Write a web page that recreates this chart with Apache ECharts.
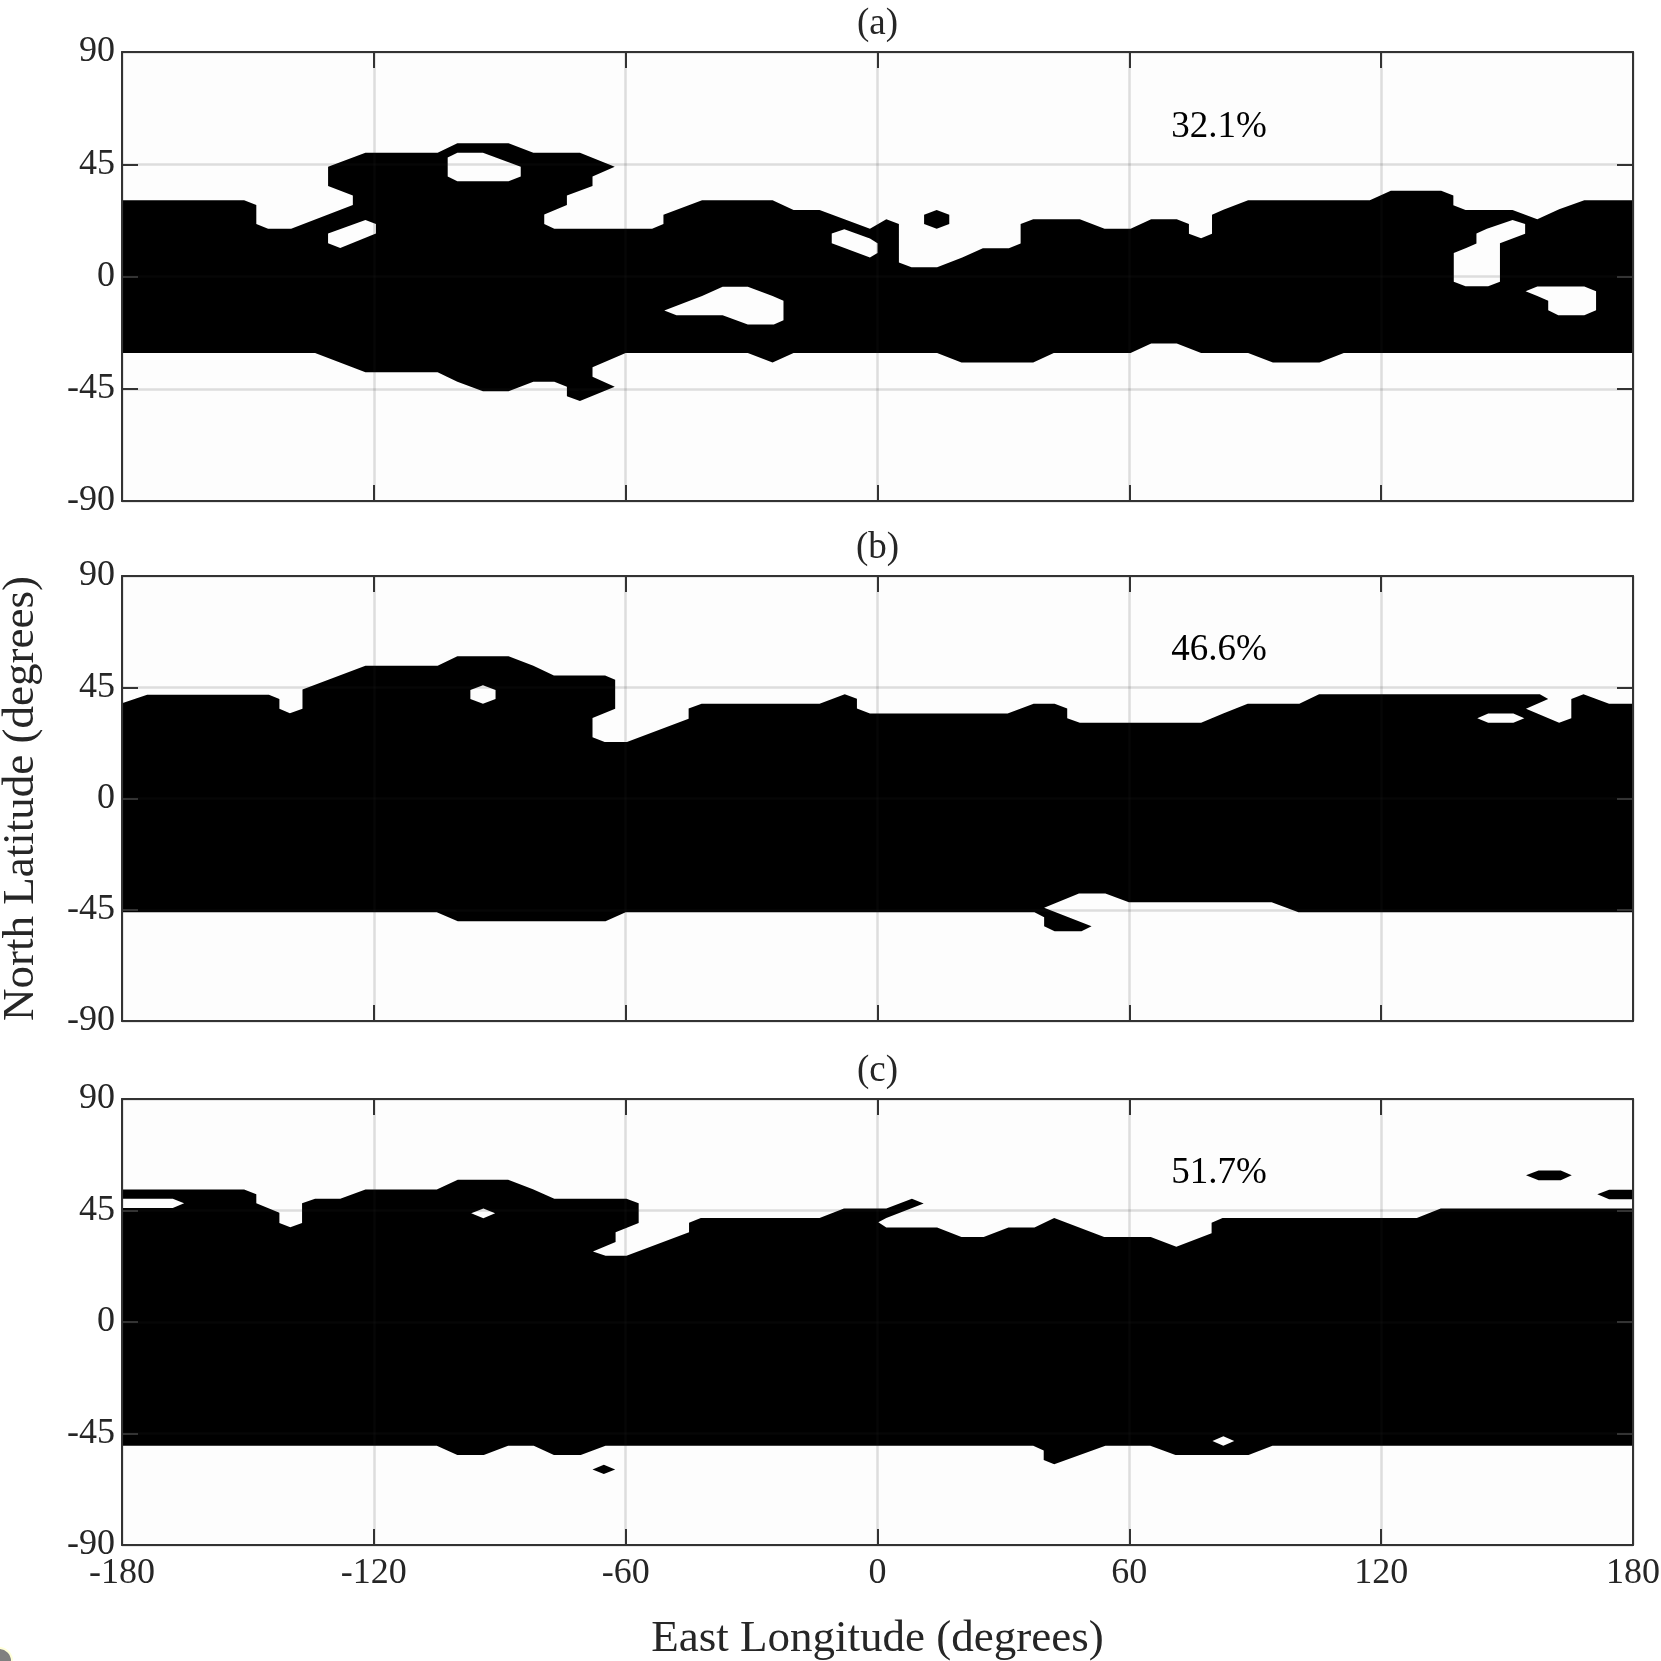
<!DOCTYPE html>
<html><head><meta charset="utf-8">
<style>html,body{margin:0;padding:0;background:#fff}#c{width:1661px;height:1661px}</style>
<script src="https://cdn.jsdelivr.net/npm/echarts@6/dist/echarts.min.js"></script>
</head><body><div id="c"></div>
<script>
const lonTicks=[-180,-120,-60,0,60,120,180];
const latTicks=[-90,-45,0,45,90];
const panelTitles=['(a)','(b)','(c)'];
const percentLabels=['32.1%','46.6%','51.7%'];
const labelLon=70, labelLat=60;

// Panel (a): contour outlines, [longitude, latitude]
const aBand=[[-180,30.6],[-150.9,30.6],[-148,28.7],[-148,21],[-145.2,19.1],[-139.7,19.1],[-125,28.7],[-125,32.5],[-130.9,36.3],[-130.9,44],[-122,49.6],[-104.8,49.6],[-100.1,53.4],[-87.9,53.4],[-82,49.6],[-70.9,49.6],[-62.6,44],[-67.9,40.1],[-67.9,36.3],[-74,32.5],[-74,28.7],[-79.4,24.9],[-79.4,21],[-77,19.1],[-53.7,19.1],[-51,21],[-51,24.8],[-41.8,30.6],[-25,30.6],[-20,26.7],[-13.8,26.7],[-1.8,19.1],[2.1,23],[5.1,21],[5.1,5.6],[8.1,3.7],[14.2,3.7],[20.2,7.6],[25.1,11.3],[31.3,11.3],[34.1,13.2],[34.1,21],[37.1,23],[48.2,23],[54.1,19.1],[60.3,19.1],[65.2,23],[71.3,23],[74.2,21],[74.2,17.1],[77.1,15.3],[79.7,17.1],[79.7,24.8],[82.4,26.8],[88.3,30.6],[117.3,30.6],[122.3,34.4],[134.3,34.4],[137.2,32.5],[137.2,28.6],[140.1,26.7],[151.3,26.7],[157.2,23],[162.4,27],[168.4,30.6],[180,30.6],[180,-30.7],[111.1,-30.7],[105.3,-34.5],[94.2,-34.5],[88.3,-30.7],[77.1,-30.7],[71.3,-26.9],[65.2,-26.9],[60.3,-30.7],[42,-30.7],[37.1,-34.5],[20,-34.5],[14.2,-30.7],[-20,-30.7],[-25,-34.5],[-30.9,-30.7],[-60,-30.7],[-67.9,-36.4],[-67.9,-40.2],[-62.6,-44.2],[-70.9,-49.9],[-74,-48],[-74,-44.2],[-77,-42.2],[-82,-42.2],[-87.9,-46],[-94,-46],[-100.1,-42.2],[-104.8,-38.4],[-122,-38.4],[-134,-30.7],[-180,-30.7]];
const aIsland=[[11.1,24.8],[14.1,26.7],[17.1,24.8],[17.1,21],[14.1,19.1],[11.1,21]];
const aHole1=[[-102.4,47.7],[-100.1,49.6],[-94,49.6],[-85,44],[-85,40.1],[-87.9,38.2],[-100.1,38.2],[-102.4,40.1]];
const aHole2=[[-130.9,17.2],[-122,22.7],[-119.5,21],[-119.5,17.2],[-128,11.4],[-130.9,13.3]];
const aHole3=[[-50.8,-13.6],[-41.8,-7.8],[-36.9,-4.1],[-30.9,-4.1],[-25,-7.8],[-22.4,-9.7],[-22.4,-17.5],[-24.7,-19.2],[-30.9,-19.2],[-36.9,-15.5],[-47.9,-15.5]];
const aHole4=[[-10.9,17.2],[-7.9,18.9],[-1.8,15.2],[0,13.3],[0,9.4],[-1.8,7.6],[-10.9,13.3]];
const aHole5=[[137.3,9.4],[140.4,11.5],[142.7,13.2],[142.7,17.2],[145.2,19.1],[151.3,22.7],[154.3,21],[154.3,17.1],[148.3,13.3],[148.3,-2.1],[145.5,-3.9],[140.1,-3.9],[137.3,-2.1]];
const aHole6=[[154.4,-5.9],[157.2,-4],[168.4,-4],[171.2,-5.9],[171.2,-13.5],[168.4,-15.5],[162.2,-15.5],[159.8,-13.5],[159.8,-9.7],[157.2,-7.8]];

// Panel (b)
const bBand=[[-180,38.5],[-174,42],[-145,42],[-142.5,40.2],[-142.5,36.3],[-140,34.5],[-137,36.3],[-137,44.1],[-122,53.7],[-104.8,53.7],[-100.1,57.5],[-87.9,57.5],[-82,53.7],[-77.1,49.8],[-64.9,49.8],[-62.5,48],[-62.5,36.3],[-67.9,32.6],[-67.9,24.8],[-65,22.9],[-59.7,22.9],[-45,32.3],[-45,36.4],[-41.9,38.3],[-13.8,38.3],[-7.8,42.2],[-4.9,40.3],[-4.9,36.4],[-1.8,34.4],[31,34.4],[37.2,38.3],[42.2,38.3],[45.2,36.4],[45.2,32.5],[48.2,30.6],[77.1,30.6],[82.5,34.5],[88.2,38.3],[100.5,38.3],[105.2,42.2],[157.8,42.2],[159.8,40.2],[154.5,36.3],[162.4,30.6],[165.3,32.5],[165.3,40.2],[168.2,42.2],[174.3,38.3],[180,38.3],[180,-46],[100.3,-46],[93.9,-42],[59.9,-42],[54.3,-38.4],[48,-38.4],[39.7,-44.2],[51,-51.7],[48.6,-53.7],[42.2,-53.7],[39.7,-51.7],[39.7,-48],[37.4,-46],[-60,-46],[-64.8,-49.7],[-100,-49.7],[-105,-46],[-180,-46]];
const bHole1=[[-94,45.8],[-91,43.9],[-91,40.2],[-94,38.3],[-97,40.2],[-97,43.9]];
const bHole2=[[142.9,32.5],[145.5,34.4],[151.5,34.4],[154.1,32.5],[151.5,30.6],[145.5,30.6]];

// Panel (c)
const cBand=[[-180,53.5],[-150.9,53.5],[-148,51.6],[-148,47.9],[-142.5,44.1],[-142.5,40],[-139.9,38.2],[-137.1,40],[-137.1,47.9],[-134,49.7],[-128,49.7],[-122,53.5],[-105,53.5],[-100,57.4],[-88,57.4],[-82.1,53.6],[-77,49.7],[-59.8,49.7],[-56.9,47.9],[-56.9,40],[-62.4,36.2],[-62.4,32.3],[-67.8,28.5],[-64.8,26.7],[-59.8,26.7],[-44.9,36.2],[-44.9,40.1],[-42.1,42],[-13.8,42],[-8,45.8],[2.1,45.8],[8.2,49.7],[11,47.8],[2.1,42],[0.2,40.3],[2.1,38.1],[14.2,38.1],[20,34.3],[25.3,34.3],[31.2,38.1],[37.4,38.1],[42.1,42],[54,34.3],[65.1,34.3],[71.2,30.4],[79.6,35.8],[79.6,40.1],[82.2,42],[128.5,42],[134.2,45.8],[180,45.8],[180,-49.9],[94.1,-49.9],[88.4,-53.7],[71,-53.7],[65,-49.9],[54.3,-49.9],[42.1,-57.4],[39.6,-55.7],[39.6,-51.9],[37.1,-49.9],[-64.8,-49.9],[-70.7,-53.7],[-77.1,-53.7],[-81.9,-49.9],[-88,-49.9],[-93.8,-53.7],[-100.1,-53.7],[-105,-49.9],[-180,-49.9]];
const cIsland1=[[154.5,59.2],[157.5,61.1],[162.8,61.1],[165.4,59.2],[162.8,57.2],[157.5,57.2]];
const cIsland2=[[171.5,51.6],[174.3,53.4],[180,53.4],[180,49.5],[174.3,49.5]];
const cIsland3=[[-67.9,-59.5],[-65.2,-57.6],[-62.5,-59.5],[-65.2,-61.3]];
const cHole1=[[-180,49.7],[-167.9,49.7],[-165.2,47.9],[-167.9,46],[-180,46]];
const cHole2=[[-96.8,43.9],[-93.9,45.8],[-91.1,43.9],[-93.9,41.9]];
const cHole3=[[79.8,-48],[82.4,-46.1],[85,-48],[82.4,-49.9]];

const filled=[[aBand,aIsland],[bBand],[cBand,cIsland1,cIsland2,cIsland3]];
const holes=[[aHole1,aHole2,aHole3,aHole4,aHole5,aHole6],[bHole1,bHole2],[cHole1,cHole2,cHole3]];

const FONT='"Liberation Serif","DejaVu Serif",serif';
const INK='#262626', BG='#fdfdfd', EDGE='#333333';
const grids=[{left:122,width:1511,top:52,height:449},{left:122,width:1511,top:576,height:445},{left:122,width:1511,top:1099,height:446}];

function baseAxis(extra){
  return Object.assign({type:'value',z:3,axisLine:{show:true,onZero:false,lineStyle:{color:EDGE,width:2}},
    axisTick:{show:true,inside:true,length:16,lineStyle:{color:EDGE,width:2}},
    axisLabel:{show:false},splitLine:{show:false}},extra);
}
const xAxes=[],yAxes=[],series=[];
grids.forEach((g,i)=>{
  const xOpt={min:lonTicks[0],max:lonTicks[lonTicks.length-1],interval:60,gridIndex:i};
  const yOpt={min:latTicks[0],max:latTicks[latTicks.length-1],interval:45,gridIndex:i};
  const split={show:true,lineStyle:{color:'rgba(38,38,38,0.15)',width:2.5}};
  const bottom=baseAxis(Object.assign({},xOpt,{position:'bottom',splitLine:split}));
  if(i===2){
    bottom.axisLabel={show:true,color:INK,fontFamily:FONT,fontSize:36,margin:11,showMinLabel:true,showMaxLabel:true,hideOverlap:false};
    bottom.name='East Longitude (degrees)';bottom.nameLocation='middle';bottom.nameGap=72;
    bottom.nameTextStyle={color:INK,fontFamily:FONT,fontSize:45};
  }
  const top=baseAxis(Object.assign({},xOpt,{position:'top',name:panelTitles[i],nameLocation:'middle',nameGap:9,
    nameTextStyle:{color:INK,fontFamily:FONT,fontSize:37}}));
  const left=baseAxis(Object.assign({},yOpt,{position:'left',splitLine:split,
    axisLabel:{show:true,color:INK,fontFamily:FONT,fontSize:36,margin:7,showMinLabel:true,showMaxLabel:true,hideOverlap:false}}));
  if(i===1){
    left.name='North Latitude (degrees)';left.nameLocation='middle';left.nameGap=78;left.nameRotate=90;
    left.nameTextStyle={color:INK,fontFamily:FONT,fontSize:45};
  }
  const right=baseAxis(Object.assign({},yOpt,{position:'right'}));
  xAxes.push(bottom,top);yAxes.push(left,right);
  const polyItem=(list,fill)=>(params,api)=>{
    const pts=list[params.dataIndex].map(p=>api.coord(p));
    return {type:'polygon',shape:{points:pts},style:{fill:fill,stroke:null}};
  };
  const common={type:'custom',coordinateSystem:'cartesian2d',xAxisIndex:2*i,yAxisIndex:2*i,silent:true,animation:false,clip:true};
  series.push(Object.assign({},common,{z:1,data:filled[i].map((_,k)=>[k]),encode:{x:[],y:[]},renderItem:polyItem(filled[i],'#000')}));
  series.push(Object.assign({},common,{z:2,data:holes[i].map((_,k)=>[k]),encode:{x:[],y:[]},renderItem:polyItem(holes[i],BG)}));
  series.push(Object.assign({},common,{z:4,data:[[labelLon,labelLat,percentLabels[i]]],
    renderItem:(params,api)=>{
      const c=api.coord([api.value(0),api.value(1)]);
      return {type:'text',style:{x:c[0],y:c[1],text:percentLabels[i],fill:'#000',font:'37px '+FONT,align:'left',verticalAlign:'middle'}};
    }}));
});
const chart=echarts.init(document.getElementById('c'),null,{renderer:'canvas'});
chart.setOption({animation:false,backgroundColor:'#fff',
  grid:grids.map(g=>Object.assign({show:true,backgroundColor:BG,borderWidth:0,outerBoundsMode:'none'},g)),
  xAxis:xAxes,yAxis:yAxes,series:series,
  graphic:[{type:'circle',shape:{cx:-1,cy:1661,r:13},style:{fill:'#808080',stroke:'#ffffd8',lineWidth:2},silent:true}]
});
</script></body></html>
